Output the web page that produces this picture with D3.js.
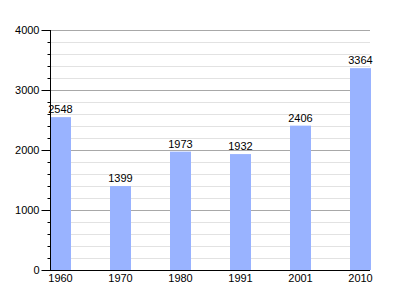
<!DOCTYPE html>
<html>
<head>
<meta charset="utf-8">
<script src="https://cdn.jsdelivr.net/npm/d3@7"></script>
<style>
  body { margin: 0; background: #fff; }
  text { font-family: "Liberation Sans", Arial, sans-serif; font-size: 11px; fill: #000; }
</style>
</head>
<body>
<script>
// chart data
var years = ["1960", "1970", "1980", "1991", "2001", "2010"];
var population = [2548, 1399, 1973, 1932, 2406, 3364];
var majorTicks = [0, 1000, 2000, 3000, 4000];

var width = 400, height = 300;
var plotL = 50, plotR = 371, plotT = 30, plotB = 270;

var svg = d3.select("body").append("svg")
  .attr("width", width).attr("height", height);

var x = d3.scaleBand().domain(years).range([plotL, plotR])
  .paddingInner(0.65).paddingOuter(0);
var y = d3.scaleLinear().domain([0, 4000]).range([plotB, plotT]);

// minor grid
var minor = d3.range(200, 4000, 200).filter(function(d) { return d % 1000 !== 0; });
svg.append("g").selectAll("line").data(minor).enter().append("line")
  .attr("x1", plotL).attr("x2", plotR - 1)
  .attr("y1", function(d) { return Math.round(y(d)) + 0.5; })
  .attr("y2", function(d) { return Math.round(y(d)) + 0.5; })
  .attr("stroke", "#e2e2e2");

// major grid
svg.append("g").selectAll("line").data(majorTicks.slice(1)).enter().append("line")
  .attr("x1", plotL).attr("x2", plotR - 1)
  .attr("y1", function(d) { return Math.round(y(d)) + 0.5; })
  .attr("y2", function(d) { return Math.round(y(d)) + 0.5; })
  .attr("stroke", "#a8a8a8");

// bars
svg.append("g").selectAll("rect").data(population).enter().append("rect")
  .attr("x", function(d, i) { return x(years[i]); })
  .attr("y", function(d) { return y(d); })
  .attr("width", x.bandwidth())
  .attr("height", function(d) { return plotB - y(d); })
  .attr("fill", "#99b3ff");

// value labels
svg.append("g").selectAll("text").data(population).enter().append("text")
  .attr("x", function(d, i) { return x(years[i]) + x.bandwidth() / 2; })
  .attr("y", function(d) { return y(d) - 4; })
  .attr("text-anchor", "middle")
  .text(function(d) { return d; });

// y axis
var yAxis = d3.axisLeft(y).tickValues(majorTicks).tickSize(9).tickPadding(2).tickFormat(d3.format("d"));
var yg = svg.append("g").attr("transform", "translate(" + (plotL + 0.5) + ",0)").call(yAxis);
yg.select(".domain").remove();
yg.selectAll(".tick line").attr("stroke", "#000");
yg.selectAll("text").style("font-size", "11px").style("font-family", "Liberation Sans, Arial, sans-serif");

var ym = d3.axisLeft(y).tickValues(minor).tickSize(3).tickFormat("");
var ymg = svg.append("g").attr("transform", "translate(" + (plotL + 0.5) + ",0)").call(ym);
ymg.select(".domain").remove();
ymg.selectAll(".tick line").attr("stroke", "#000");

svg.append("line")
  .attr("x1", plotL + 0.5).attr("x2", plotL + 0.5)
  .attr("y1", plotT).attr("y2", plotB + 1)
  .attr("stroke", "#000");

// x axis
var xAxis = d3.axisBottom(x).tickSize(0).tickPadding(4);
var xg = svg.append("g").attr("transform", "translate(0," + (plotB + 0.5) + ")").call(xAxis);
xg.select(".domain").remove();
xg.selectAll("text").style("font-size", "11px").style("font-family", "Liberation Sans, Arial, sans-serif");

svg.append("line")
  .attr("x1", plotL).attr("x2", plotR - 1)
  .attr("y1", plotB + 0.5).attr("y2", plotB + 0.5)
  .attr("stroke", "#000");
</script>
</body>
</html>
